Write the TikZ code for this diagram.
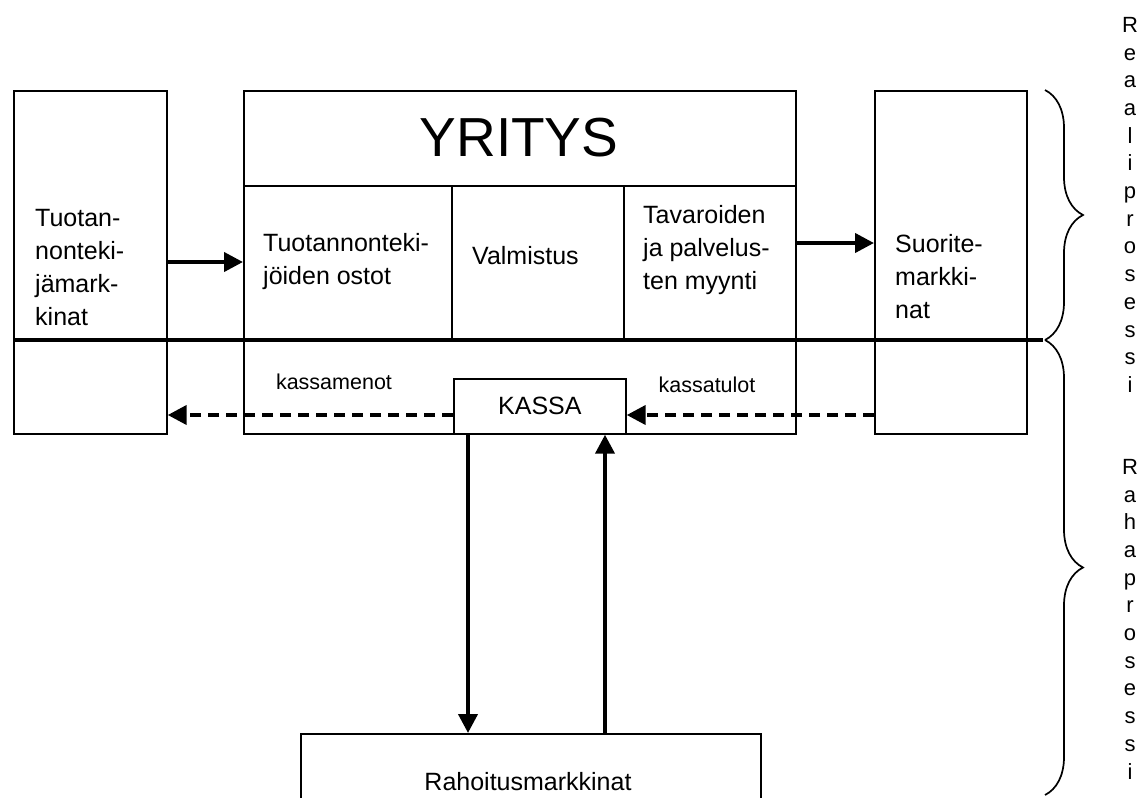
\documentclass[tikz,border=0pt]{standalone}
\usepackage{fontspec}
\setmainfont{Liberation Sans}
\usetikzlibrary{arrows.meta,decorations.pathreplacing}

\tikzset{
  box/.style={draw, line width=1.7pt, inner sep=0pt, anchor=north west},
  txt/.style={align=left, inner sep=0pt, font=\fontsize{25}{33}\selectfont},
  small/.style={inner sep=0pt, font=\fontsize{21.5}{25}\selectfont},
  flow/.style={line width=4pt, -{Triangle[length=19pt,width=19pt]}},
  cash/.style={flow, dash pattern=on 11pt off 7pt},
  letters/.style={align=center, inner sep=0pt, anchor=north, font=\fontsize{22}{27.7}\selectfont},
}

\begin{document}
\begin{tikzpicture}[x=1pt,y=-1pt]
\useasboundingbox (0,0) rectangle (1141,798);

% markets and the firm
\node[box, minimum width=153pt, minimum height=343pt] (tmark) at (13,90) {};
\node[box, minimum width=552pt, minimum height=343pt] (yritys) at (243,90) {};
\node[box, minimum width=152pt, minimum height=343pt] (smark) at (874,90) {};

\node[txt, anchor=west] (tmarktxt) at (35,268) {Tuotan-\\nonteki-\\jämark-\\kinat};
\node[txt, anchor=west] (smarktxt) at (895,277) {Suorite-\\markki-\\nat};

\draw[line width=1.7pt] (243,186) -- (795,186);
\node[inner sep=0pt, font=\fontsize{55}{62}\selectfont] (yrtxt) at (519,138) {YRITYS};

\draw[line width=1.7pt] (452,186) -- (452,340);
\draw[line width=1.7pt] (624,186) -- (624,340);
\node[txt, anchor=west] (ostot) at (263,262) {Tuotannonteki-\\jöiden ostot};
\node[txt, anchor=west] (valm) at (472,256) {Valmistus};
\node[txt, anchor=west] (myynti) at (643,250) {Tavaroiden\\ja palvelus-\\ten myynti};

% real / money boundary
\draw[line width=4.7pt] (13,340) -- (1043,340);

\node[box, minimum width=172pt, minimum height=55pt, font=\fontsize{25}{30}\selectfont] (kassa) at (453,378) {KASSA};
\node[small] (menot) at (334,382) {kassamenot};
\node[small] (tulot) at (707,385) {kassatulot};

\node[box, minimum width=460pt, minimum height=90pt] (rahoitus) at (300,733) {};
\node[txt] (rahtxt) at (528,782) {Rahoitusmarkkinat};

% flows
\coordinate (inrow) at (0,262);
\coordinate (outrow) at (0,243);
\coordinate (cashrow) at (0,415);
\coordinate (downcol) at (468,0);
\coordinate (upcol) at (605,0);

\draw[flow] (tmark.east |- inrow) -- (yritys.west |- inrow);
\draw[flow] (yritys.east |- outrow) -- (smark.west |- outrow);
\draw[cash] (kassa.west |- cashrow) -- (tmark.east |- cashrow);
\draw[cash] (smark.west |- cashrow) -- (kassa.east |- cashrow);
\draw[flow] (kassa.south -| downcol) -- (rahoitus.north -| downcol);
\draw[flow] (rahoitus.north -| upcol) -- (kassa.south -| upcol);

% braces
\draw[line width=1.7pt, decorate, decoration={brace, amplitude=38pt}] (1045,90) -- (1045,340);
\draw[line width=1.7pt, decorate, decoration={brace, amplitude=38pt}] (1045,340) -- (1045,795);

\node[letters] (reaali) at (1130,17) {R\\e\\a\\a\\l\\i\\p\\r\\o\\s\\e\\s\\s\\i};
\node[letters] (raha) at (1130,459) {R\\a\\h\\a\\p\\r\\o\\s\\e\\s\\s\\i};
\end{tikzpicture}
\end{document}
